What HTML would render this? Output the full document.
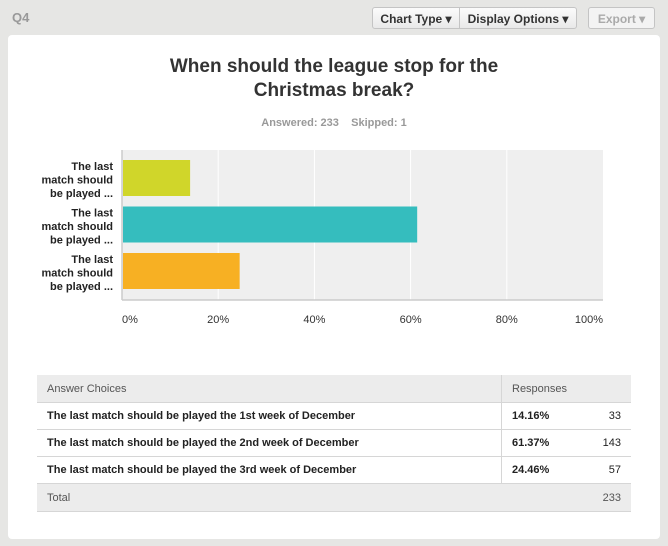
<!DOCTYPE html>
<html><head><meta charset="utf-8"><style>
body{margin:0;width:668px;height:546px;background:#e6e6e4;font-family:"Liberation Sans",Arial,sans-serif;position:relative;overflow:hidden}
.abs{position:absolute}
.btn{position:absolute;top:7px;height:22px;border:1px solid #c4c4c4;background:linear-gradient(#fbfbfb,#e9e9e9);font-size:12px;font-weight:bold;color:#333;line-height:22px;text-align:center;box-sizing:border-box}
.card{position:absolute;left:8px;top:35px;width:652px;height:504px;background:#fff;border-radius:4px}
table{border-collapse:collapse;position:absolute;left:37px;top:375px;width:594px;font-size:11px}
td{height:26px;border-bottom:1px solid #d6d6d6;padding:0 10px;color:#222;font-weight:bold}
tr.h td,tr.t td{background:#ececec;font-weight:normal;color:#555;height:27px}
td.r{text-align:right}
</style></head><body>
<div class="abs" style="left:12px;top:10px;font-size:13px;font-weight:bold;color:#999">Q4</div>
<div class="btn" style="left:372px;width:88px;border-radius:3px 0 0 3px">Chart Type ▾</div>
<div class="btn" style="left:459px;width:118px;border-radius:0 3px 3px 0">Display Options ▾</div>
<div class="btn" style="left:588px;width:67px;border-radius:3px;color:#aaa;background:#f3f3f3">Export ▾</div>
<div class="card"></div>
<div class="abs" style="left:0;width:668px;top:55px;text-align:center;font-size:19px;font-weight:bold;color:#333;line-height:24px">When should the league stop for the<br>Christmas break?</div>
<div class="abs" style="left:0;width:668px;top:117px;text-align:center;font-size:11px;font-weight:bold;color:#999">Answered: 233&nbsp;&nbsp;&nbsp;&nbsp;Skipped: 1</div>
<svg class="abs" id="chart" style="left:0;top:0" width="668" height="340"></svg>
<table>
<tr class="h"><td style="width:444px">Answer Choices</td><td colspan="2" style="border-left:1px solid #d6d6d6">Responses</td></tr>
<tr><td>The last match should be played the 1st week of December</td><td style="border-left:1px solid #d6d6d6">14.16%</td><td class="r" style="font-weight:normal">33</td></tr>
<tr><td>The last match should be played the 2nd week of December</td><td style="border-left:1px solid #d6d6d6">61.37%</td><td class="r" style="font-weight:normal">143</td></tr>
<tr><td>The last match should be played the 3rd week of December</td><td style="border-left:1px solid #d6d6d6">24.46%</td><td class="r" style="font-weight:normal">57</td></tr>
<tr class="t"><td>Total</td><td></td><td class="r">233</td></tr>
</table>
<script>
const categories=["The last match should be played ...","The last match should be played ...","The last match should be played ..."];
const values=[14.16,61.37,24.46];
const colors=["#d0d62a","#35bdbe","#f7b023"];
const ticks=[0,20,40,60,80,100];
const NS="http://www.w3.org/2000/svg";
const svg=document.getElementById('chart');
const x0=122,x1=603,y0=150,y1=300,band=46.5,barH=36;
const xs=v=>x0+(x1-x0)*v/100;
const ys=i=>y0+5+i*band;
function mk(t,a){const e=document.createElementNS(NS,t);for(const k in a)e.setAttribute(k,a[k]);svg.appendChild(e);return e;}
let bg=mk('rect',{x:x0,y:y0,width:x1-x0,height:y1-y0,fill:'#efefef'});


ticks.forEach(t=>{
 if(t>0&&t<100){let g=mk('line',{x1:xs(t),x2:xs(t),y1:y0,y2:y1,stroke:'#fff','stroke-width':1});
 
 }
 let l=mk('text',{x:xs(t)+(t==0?8:t==100?-14:0),y:323,'text-anchor':'middle','font-size':11,fill:'#333'});
 l.textContent=t+'%';
 
 
});
let ax=mk('line',{x1:x0,x2:x0,y1:y0,y2:y1,stroke:'#ccc','stroke-width':1.5});


let bx=mk('line',{x1:x0,x2:x1,y1:y1,y2:y1,stroke:'#ccc','stroke-width':1.5});


values.forEach((v,i)=>{
 let r=mk('rect',{x:x0+1,y:ys(i)+5,width:xs(v)-x0-1,height:barH,fill:colors[i]});
 
 
 const words=["The last","match should","be played ..."];
 let t=mk('text',{x:113,y:ys(i)+15,'text-anchor':'end','font-size':11,'font-weight':'bold',fill:'#222'});
 
 
 words.forEach((w,j)=>{let s=document.createElementNS(NS,'tspan');s.setAttribute('x',113);s.setAttribute('dy',j?13.5:0);s.textContent=w;t.appendChild(s);});
});
</script>
</body></html>
